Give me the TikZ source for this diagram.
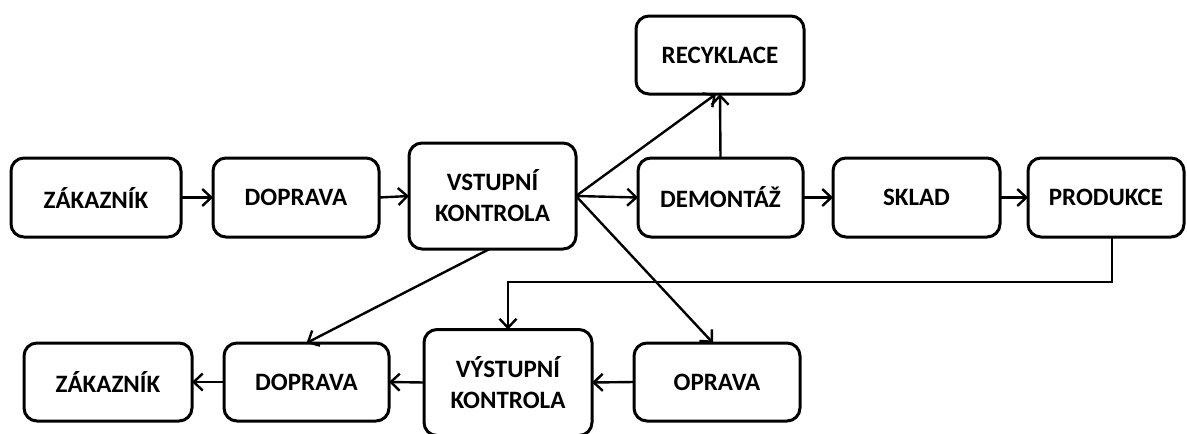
\documentclass[tikz,border=0pt]{standalone}
\usepackage{fontspec}
\setmainfont{Carlito}
\usetikzlibrary{arrows.meta}
\begin{document}
\begin{tikzpicture}[x=1pt,y=-1pt,
  box/.style={draw=black, line width=3pt, rounded corners=13pt, fill=white,
    minimum width=#1, minimum height=79pt, inner sep=0pt, outer sep=0pt,
    align=center, font=\fontsize{25}{31}\selectfont\bfseries},
  box/.default=167pt,
  tallbox/.style={box=#1, minimum height=106pt},
  tallbox/.default=167pt,
  link/.style={draw=black, line width=2.4pt,
    -{Straight Barb[length=9pt,width=17pt,line width=2.4pt]}}
]
\useasboundingbox (0,0) rectangle (1187,434);

% upper row
\node[box=170pt] (zak1) at (96,197.5) {ZÁKAZNÍK};
\node[box=166pt] (dop1) at (296,197.5) {DOPRAVA};
\node[tallbox=167pt] (vst) at (492.5,196) {VSTUPNÍ\\KONTROLA};
\node[box=165pt] (dem) at (720.5,197.5) {DEMONTÁŽ};
\node[box=167pt] (skl) at (916.5,197.5) {SKLAD};
\node[box=156pt] (pro) at (1106,197.5) {PRODUKCE};
\node[box=168pt, minimum height=78pt] (rec) at (720,55) {RECYKLACE};

% lower row
\node[box=168pt, minimum height=78pt] (zak2) at (108,382) {ZÁKAZNÍK};
\node[box=165pt, minimum height=78pt] (dop2) at (306.5,382) {DOPRAVA};
\node[tallbox=168pt] (vys) at (508,382.5) {VÝSTUPNÍ\\KONTROLA};
\node[box=166pt, minimum height=78pt] (opr) at (717,382) {OPRAVA};

% flow of the upper row
\draw[link] (zak1.east) -- (dop1.west);
\draw[link] (dop1.east) -- (vst.west);
\draw[link] (vst.east) -- (dem.west);
\draw[link] (dem.east) -- (skl.west);
\draw[link] (skl.east) -- (pro.west);

% branches from the input check
\draw[link] (vst.east) -- ([xshift=-4pt]rec.south);
\draw[link] (dem.north) -- (rec.south);
\draw[link] (vst.east) -- ([xshift=-4pt]opr.north);
\draw[link] ([xshift=-3pt]vst.south) -- (dop2.north);

% production back to the output check
\coordinate (turn) at (1112,282);
\draw[link] ([xshift=6pt]pro.south) -- (turn) -| (vys.north);

% flow of the lower row
\draw[link] (opr.west) -- (vys.east);
\draw[link] (vys.west) -- (dop2.east);
\draw[link] (dop2.west) -- (zak2.east);
\end{tikzpicture}
\end{document}
